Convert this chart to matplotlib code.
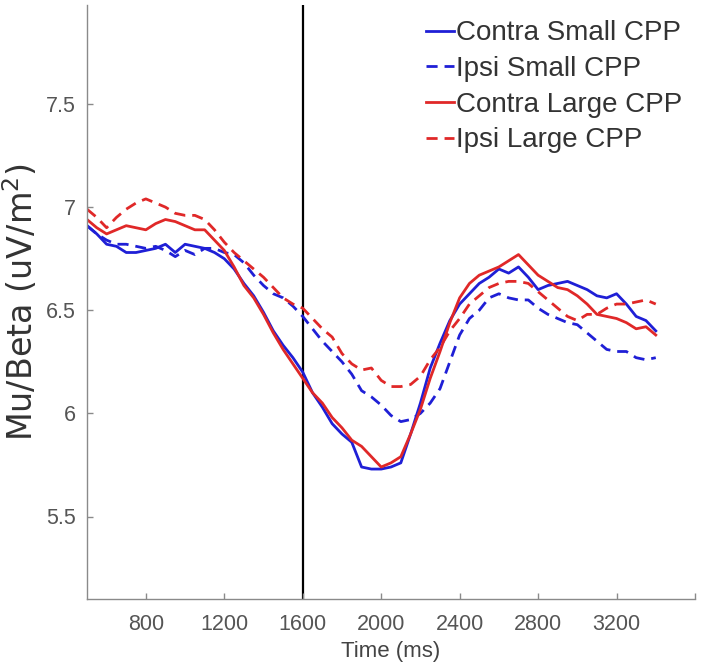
import numpy as np
import matplotlib
matplotlib.use("Agg")
from matplotlib import pyplot as plt

# time axis (ms), 50 ms steps
t = np.arange(500, 3401, 50)

contra_small = [6.91, 6.87, 6.82, 6.81, 6.78, 6.78, 6.79, 6.80, 6.82, 6.78,
                6.82, 6.81, 6.80, 6.78, 6.75, 6.70, 6.63, 6.57, 6.49, 6.40,
                6.33, 6.27, 6.20, 6.10, 6.03, 5.95, 5.90, 5.86, 5.74, 5.73,
                5.73, 5.74, 5.76, 5.90, 6.05, 6.22, 6.34, 6.45, 6.53, 6.58,
                6.63, 6.66, 6.70, 6.68, 6.71, 6.66, 6.60, 6.62, 6.63, 6.64,
                6.62, 6.60, 6.57, 6.56, 6.58, 6.53, 6.47, 6.45, 6.40]

ipsi_small = [6.91, 6.87, 6.84, 6.82, 6.82, 6.81, 6.80, 6.81, 6.79, 6.76,
              6.79, 6.77, 6.80, 6.80, 6.78, 6.77, 6.73, 6.67, 6.62, 6.58,
              6.56, 6.52, 6.47, 6.41, 6.35, 6.30, 6.25, 6.19, 6.11, 6.08,
              6.04, 5.99, 5.96, 5.97, 6.00, 6.05, 6.12, 6.25, 6.38, 6.46,
              6.50, 6.56, 6.58, 6.56, 6.55, 6.55, 6.51, 6.48, 6.46, 6.44,
              6.43, 6.39, 6.35, 6.31, 6.30, 6.30, 6.27, 6.26, 6.27]

contra_large = [6.94, 6.90, 6.87, 6.89, 6.91, 6.90, 6.89, 6.92, 6.94, 6.93,
                6.91, 6.89, 6.89, 6.84, 6.79, 6.71, 6.62, 6.56, 6.48, 6.39,
                6.31, 6.24, 6.17, 6.10, 6.05, 5.98, 5.93, 5.87, 5.84, 5.79,
                5.74, 5.76, 5.79, 5.90, 6.02, 6.17, 6.30, 6.44, 6.56, 6.63,
                6.67, 6.69, 6.71, 6.74, 6.77, 6.72, 6.67, 6.64, 6.61, 6.60,
                6.57, 6.53, 6.48, 6.47, 6.46, 6.44, 6.41, 6.42, 6.38]

ipsi_large = [6.99, 6.95, 6.90, 6.95, 6.99, 7.02, 7.04, 7.02, 7.00, 6.97,
              6.96, 6.96, 6.94, 6.89, 6.83, 6.78, 6.74, 6.70, 6.66, 6.61,
              6.56, 6.53, 6.51, 6.46, 6.41, 6.37, 6.29, 6.24, 6.21, 6.22,
              6.16, 6.13, 6.13, 6.14, 6.18, 6.26, 6.32, 6.40, 6.46, 6.53,
              6.57, 6.61, 6.63, 6.64, 6.64, 6.63, 6.59, 6.55, 6.51, 6.47,
              6.45, 6.48, 6.48, 6.51, 6.53, 6.53, 6.54, 6.55, 6.53]

xticks = [800, 1200, 1600, 2000, 2400, 2800, 3200, 3600]
xticklabels = ["800", "1200", "1600", "2000", "2400", "2800", "3200", ""]
yticks = [5.5, 6, 6.5, 7, 7.5]
yticklabels = ["5.5", "6", "6.5", "7", "7.5"]

blue = "#1f1fd6"
red = "#e02828"

plt.rcParams["font.family"] = ["Liberation Sans", "DejaVu Sans"]
plt.rcParams["mathtext.fontset"] = "dejavusans"

fig = plt.figure(figsize=(7.08, 6.70), dpi=100)
ax = fig.add_axes([87/708, 1-599/670, (695-87)/708, (599-5)/670])

ax.axvline(1600, color="black", lw=1.6, zorder=1)

lw = 2.0
ax.plot(t, contra_small, color=blue, lw=lw, label="Contra Small CPP")
ax.plot(t, ipsi_small, color=blue, lw=lw, dashes=(4, 2.5), label="Ipsi Small CPP")
ax.plot(t, contra_large, color=red, lw=lw, label="Contra Large CPP")
ax.plot(t, ipsi_large, color=red, lw=lw, dashes=(4, 2.5), label="Ipsi Large CPP")

ax.set_xlim(500, 3600)
ax.set_ylim(5.1, 7.98)
ax.set_xticks(xticks)
ax.set_xticklabels(xticklabels)
ax.set_yticks(yticks)
ax.set_yticklabels(yticklabels)

for s in ["top", "right"]:
    ax.spines[s].set_visible(False)
for s in ["left", "bottom"]:
    ax.spines[s].set_color("#8a8a8a")
    ax.spines[s].set_linewidth(1.0)
ax.tick_params(direction="in", length=4, width=1, color="#8a8a8a",
               labelcolor="#555555", labelsize=15.5)
ax.tick_params(axis="x", pad=11)
ax.tick_params(axis="y", pad=8)

ax.set_xlabel("Time (ms)", fontsize=16, color="#444444", labelpad=4)
ax.set_ylabel(r"Mu/Beta (uV/m$^2$)", fontsize=24, color="#333333",
              family="DejaVu Sans")
ax.yaxis.set_label_coords(-(87 - 40) / 608, 0.5)

leg = ax.legend(loc="upper left", bbox_to_anchor=(0.540, 0.993), frameon=False,
                fontsize=20, handlelength=1.0, handletextpad=0.05,
                labelspacing=0.35, borderaxespad=0)
for txt in leg.get_texts():
    txt.set_color("#333333")

fig.savefig("out.png", dpi=100)
